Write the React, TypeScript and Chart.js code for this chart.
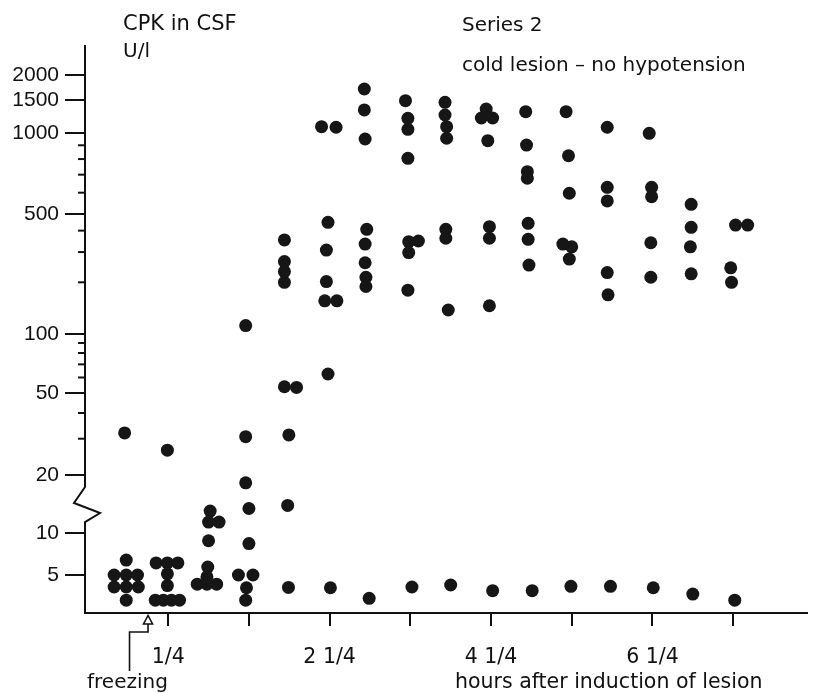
import React, { useEffect, useRef } from 'react';
import { Chart, registerables, LinearScale } from 'chart.js';

// CPK in CSF (U/l) per sampling time; each entry: [hours after induction of lesion, value]
const c_m025: number[][] = [[-0.29, 32], [-0.27, 6.4], [-0.42, 5.0], [-0.27, 5.0], [-0.13, 5.0], [-0.42, 4.1], [-0.27, 4.1], [-0.12, 4.1], [-0.27, 3.3]];
const c_025: number[][] = [[0.24, 26.4], [0.10, 6.1], [0.24, 6.1], [0.37, 6.1], [0.24, 5.1], [0.24, 4.2], [0.09, 3.3], [0.19, 3.3], [0.29, 3.3], [0.39, 3.3]];
const c_075: number[][] = [[0.77, 13.0], [0.75, 11.4], [0.88, 11.4], [0.75, 8.8], [0.74, 5.7], [0.73, 4.84], [0.61, 4.3], [0.73, 4.3], [0.85, 4.3]];
const c_125: number[][] = [[1.21, 112], [1.21, 30.7], [1.21, 18.2], [1.25, 13.4], [1.25, 8.4], [1.12, 5.0], [1.30, 5.0], [1.22, 4.05], [1.21, 3.3]];
const c_175: number[][] = [[1.69, 353], [1.69, 264], [1.69, 231], [1.69, 200], [1.69, 53.8], [1.84, 53.4], [1.745, 31.3], [1.73, 13.9], [1.74, 4.07]];
const c_225: number[][] = [[2.15, 1080], [2.33, 1073], [2.23, 447], [2.21, 308], [2.21, 202], [2.19, 156], [2.34, 156], [2.23, 62.5], [2.26, 4.05]];
const c_275: number[][] = [[2.68, 1702], [2.68, 1327], [2.69, 950], [2.71, 407], [2.69, 334], [2.69, 260], [2.70, 214], [2.70, 189], [2.74, 3.4]];
const c_325: number[][] = [[3.19, 1487], [3.22, 1198], [3.22, 1046], [3.22, 805], [3.23, 345], [3.35, 348], [3.23, 298], [3.22, 180], [3.27, 4.1]];
const c_375: number[][] = [[3.68, 1458], [3.68, 1247], [3.70, 1080], [3.70, 956], [3.69, 407], [3.69, 361], [3.72, 138], [3.75, 4.24]];
const c_425: number[][] = [[4.19, 1342], [4.13, 1202], [4.27, 1202], [4.21, 936], [4.23, 422], [4.23, 361], [4.23, 146], [4.27, 3.86]];
const c_475: number[][] = [[4.68, 1299], [4.69, 902], [4.70, 718], [4.70, 679], [4.71, 441], [4.71, 356], [4.72, 252], [4.76, 3.86]];
const c_525: number[][] = [[5.18, 1299], [5.21, 823], [5.22, 597], [5.14, 334], [5.25, 322], [5.22, 273], [5.24, 4.15]];
const c_575: number[][] = [[5.69, 1073], [5.69, 628], [5.69, 559], [5.69, 228], [5.70, 169], [5.73, 4.15]];
const c_625: number[][] = [[6.21, 997], [6.24, 628], [6.24, 580], [6.23, 340], [6.23, 214], [6.26, 4.05]];
const c_675: number[][] = [[6.73, 543], [6.73, 418], [6.72, 322], [6.73, 224], [6.75, 3.65]];
const c_725: number[][] = [[7.28, 431], [7.43, 431], [7.22, 243], [7.23, 200], [7.27, 3.3]];

const columns = [c_m025, c_025, c_075, c_125, c_175, c_225, c_275, c_325, c_375, c_425, c_475, c_525, c_575, c_625, c_675, c_725];

const yTickValues = [5, 10, 20, 50, 100, 500, 1000, 1500, 2000];
const yMinorTicks = [30, 40, 60, 70, 80, 90, 200, 300, 400, 600, 700, 800, 900];
const xTickValues = [0.25, 1.25, 2.25, 3.25, 4.25, 5.25, 6.25, 7.25];
const xTickLabels = ['1/4', '', '2 1/4', '', '4 1/4', '', '6 1/4', ''];

const titleLeft = ['CPK in CSF', 'U/l'];
const titleRight = ['Series 2', 'cold lesion \u2013 no hypotension'];
const xAxisTitle = 'hours after induction of lesion';
const markerLabel = 'freezing';

// shape of the broken, hand-drawn log axis: [value, fraction of axis height]
const Y_KNOTS: number[][] = [
  [2.67, 0], [5, 0.0669], [10, 0.1408], [20, 0.243], [50, 0.3873], [100, 0.4912],
  [500, 0.7025], [1000, 0.8451], [1500, 0.9032], [2000, 0.9472], [2800, 1],
];

function valueToFrac(v: number) {
  const k = Y_KNOTS;
  const lv = Math.log10(Math.max(v, 1e-6));
  let i = 0;
  while (i < k.length - 2 && v > k[i + 1][0]) i++;
  const l0 = Math.log10(k[i][0]);
  const l1 = Math.log10(k[i + 1][0]);
  return k[i][1] + ((lv - l0) / (l1 - l0)) * (k[i + 1][1] - k[i][1]);
}

function fracToValue(f: number) {
  const k = Y_KNOTS;
  let i = 0;
  while (i < k.length - 2 && f > k[i + 1][1]) i++;
  const l0 = Math.log10(k[i][0]);
  const l1 = Math.log10(k[i + 1][0]);
  const t = (f - k[i][1]) / (k[i + 1][1] - k[i][1]);
  return Math.pow(10, l0 + t * (l1 - l0));
}

class BrokenLogScale extends LinearScale {
  static id = 'brokenLog';
  static defaults = {};
  buildTicks() {
    return yTickValues.map((value) => ({ value }));
  }
  getPixelForValue(value: number) {
    return this.getPixelForDecimal(valueToFrac(value));
  }
  getValueForPixel(pixel: number) {
    return fracToValue(this.getDecimalForPixel(pixel));
  }
}

Chart.register(...registerables, BrokenLogScale as any);

const INK = '#111';
const FAMILY = '"DejaVu Sans", sans-serif';

const decorPlugin = {
  id: 'decor',
  afterDraw(chart: any) {
    const ctx = chart.ctx;
    const ys = chart.scales.y;
    const xs = chart.scales.x;
    const area = chart.chartArea;
    const L = area.left;
    ctx.save();
    ctx.strokeStyle = INK;
    ctx.fillStyle = INK;
    ctx.lineWidth = 2;
    ctx.lineJoin = 'miter';

    // y axis with break
    const y10 = ys.getPixelForValue(10);
    const y20 = ys.getPixelForValue(20);
    ctx.beginPath();
    ctx.moveTo(L, area.top);
    ctx.lineTo(L, y20 + 12);
    ctx.lineTo(L - 11, y20 + 28);
    ctx.lineTo(L + 15, y10 - 20);
    ctx.lineTo(L, y10 - 11);
    ctx.lineTo(L, area.bottom + 1);
    ctx.stroke();

    // minor ticks
    yMinorTicks.forEach((v) => {
      const p = ys.getPixelForValue(v);
      ctx.beginPath();
      ctx.moveTo(L - 7, p);
      ctx.lineTo(L, p);
      ctx.stroke();
    });

    // texts
    ctx.textBaseline = 'alphabetic';
    ctx.textAlign = 'left';
    ctx.font = `21px ${FAMILY}`;
    ctx.fillText(titleLeft[0], 123, 30);
    ctx.font = `20px ${FAMILY}`;
    ctx.fillText(titleLeft[1], 123, 57);
    ctx.fillText(titleRight[0], 462, 31);
    ctx.fillText(titleRight[1], 462, 71);
    ctx.fillText(markerLabel, 87, 688);
    ctx.font = `20.5px ${FAMILY}`;
    ctx.fillText(xAxisTitle, 455, 688);

    // freezing arrow at t = 0
    const x0 = xs.getPixelForValue(0);
    ctx.lineWidth = 1.6;
    ctx.beginPath();
    ctx.moveTo(x0 - 18.5, 671);
    ctx.lineTo(x0 - 18.5, 632);
    ctx.lineTo(x0, 632);
    ctx.lineTo(x0, 624);
    ctx.stroke();
    ctx.beginPath();
    ctx.moveTo(x0, 615.5);
    ctx.lineTo(x0 - 4.5, 624);
    ctx.lineTo(x0 + 4.5, 624);
    ctx.closePath();
    ctx.fillStyle = '#fff';
    ctx.fill();
    ctx.stroke();
    ctx.restore();
  },
};

export default function App() {
  const ref = useRef<HTMLCanvasElement | null>(null);
  useEffect(() => {
    if (!ref.current) return;
    const data = columns.flat().map(([x, y]) => ({ x, y }));
    const chart = new Chart(ref.current, {
      type: 'scatter',
      data: {
        datasets: [
          {
            data,
            backgroundColor: '#161616',
            borderWidth: 0,
            pointRadius: 6.5,
            pointHoverRadius: 6.5,
          },
        ],
      },
      options: {
        responsive: false,
        animation: false,
        devicePixelRatio: 1,
        layout: { padding: { top: 45, left: 0, right: 0, bottom: 0 } },
        plugins: { legend: { display: false }, tooltip: { enabled: false } },
        scales: {
          x: {
            type: 'linear',
            min: -0.781,
            max: 8.159,
            afterFit: (s: any) => {
              s.height = 80;
            },
            afterBuildTicks: (s: any) => {
              s.ticks = xTickValues.map((value) => ({ value }));
            },
            grid: { drawOnChartArea: false, drawTicks: true, tickLength: 13, color: INK, lineWidth: 2 },
            border: { display: true, color: INK, width: 2 },
            ticks: {
              autoSkip: false,
              maxRotation: 0,
              padding: 19,
              color: INK,
              font: { family: FAMILY, size: 20.5 },
              callback: (_v: any, i: number) => xTickLabels[i],
            },
          },
          y: {
            type: 'brokenLog' as any,
            min: 2.67,
            max: 2800,
            afterFit: (s: any) => {
              s.width = 85;
            },
            grid: { drawOnChartArea: false, drawTicks: true, tickLength: 20, color: INK, lineWidth: 2 },
            border: { display: false },
            ticks: {
              autoSkip: false,
              padding: 6,
              color: INK,
              font: { family: '"Liberation Sans", sans-serif', size: 21 },
              callback: (v: any) => String(v),
            },
          },
        },
      } as any,
      plugins: [decorPlugin],
    });
    return () => chart.destroy();
  }, []);
  return (
    <div style={{ position: 'absolute', left: 0, top: 0, width: 813, height: 693, background: '#fff' }}>
      <canvas ref={ref} width={813} height={693} style={{ display: 'block' }} />
    </div>
  );
}
